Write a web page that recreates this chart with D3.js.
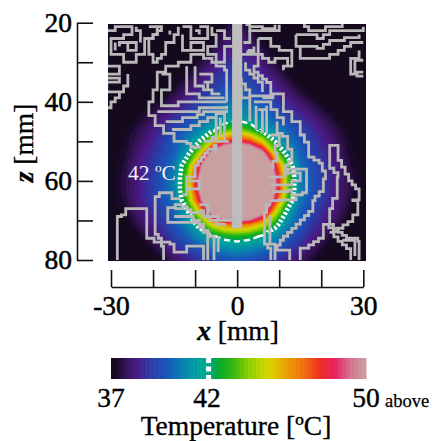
<!DOCTYPE html>
<html><head><meta charset="utf-8">
<script src="https://cdn.jsdelivr.net/npm/d3@7"></script>
<style>html,body{margin:0;background:#fff}svg{display:block}text{font-family:"Liberation Serif",serif;fill:#000}</style>
</head><body><svg id="c" width="434" height="441"></svg>
<script>
const xGrid = [-30,-27,-24,-21,-18,-15,-12,-9,-6,-3,0,3,6,9,12,15,18,21,24,27,30];
const zGrid = [20,23,26,29,32,35,38,41,44,47,50,53,56,59,62,65,68,71,74,77,80];
// temperature in deg C, one row per zGrid entry; values inside the 50+ core are saturated
const temperature = [
[37,37,37,37,37,37,37,37,37,37.2,37.6,37.2,37,37,37,37,37,37,37,37,37],
[37,37,37,37,37,37,37,37,37.1,37.6,38,37.6,37.1,37,37,37,37,37,37,37,37],
[37,37,37,37,37,37,37,37,37.4,38,38.4,38,37.4,37,37,37,37,37,37,37,37],
[37,37,37,37,37,37,37,37.3,37.8,38.4,38.8,38.4,37.8,37.3,37,37,37,37,37,37,37],
[37,37,37,37,37,37,37.2,37.7,38.3,38.9,39.2,38.9,38.3,37.7,37.2,37,37,37,37,37,37],
[37,37,37,37,37,37.1,37.6,38.2,38.8,39.3,39.6,39.3,38.8,38.2,37.6,37.1,37,37,37,37,37],
[37,37,37,37,37.1,37.5,38.1,38.7,39.3,39.8,40.1,39.8,39.3,38.7,38.1,37.5,37.1,37,37,37,37],
[37,37,37,37.2,37.6,38.1,38.7,39.3,39.9,40.4,40.7,40.4,39.9,39.3,38.7,38.1,37.6,37.2,37,37,37],
[37,37,37.2,37.6,38.1,38.7,39.3,39.9,40.5,41,41.3,41,40.5,39.9,39.3,38.7,38.1,37.6,37.2,37,37],
[37,37.1,37.5,38,38.7,39.3,40,40.7,41.6,43,44,43,41.6,40.7,40,39.3,38.7,38,37.5,37.1,37],
[37,37.2,37.7,38.3,39,39.8,40.6,42,45,47.5,48.5,47.5,45,42,40.6,39.8,39,38.3,37.7,37.2,37],
[37,37.3,37.9,38.6,39.2,40,41.4,44.5,50.5,54,56,54,50.5,44.5,41.4,40,39.2,38.6,37.9,37.3,37],
[37.1,37.4,38.1,38.8,39.5,40.4,43,48,56,60,62,60,56,48,43,40.4,39.5,38.8,38.1,37.4,37.1],
[37.1,37.5,38.1,38.9,39.7,40.6,43.6,49.7,58,64,66,64,58,49.7,43.6,40.6,39.7,38.9,38.1,37.5,37.1],
[37.1,37.5,38.1,38.9,39.7,40.6,43.6,49.7,58,64,66,64,58,49.7,43.6,40.6,39.7,38.9,38.1,37.5,37.1],
[37.1,37.4,38.1,38.8,39.5,40.4,43,48,56,60,62,60,56,48,43,40.4,39.5,38.8,38.1,37.4,37.1],
[37,37.2,37.9,38.5,39.2,40,41.5,45,50.5,54,56,54,50.5,45,41.5,40,39.2,38.5,37.9,37.2,37],
[37,37,37.5,38.2,38.9,39.7,40.7,42.5,45,46.5,47,46.5,45,42.5,40.7,39.7,38.9,38.2,37.5,37,37],
[37,37,37.1,37.7,38.4,39.2,40,40.9,41.8,42.5,42.8,42.5,41.8,40.9,40,39.2,38.4,37.7,37.1,37,37],
[37,37,37,37.2,37.8,38.5,39.2,39.8,40.4,40.8,41,40.8,40.4,39.8,39.2,38.5,37.8,37.2,37,37,37],
[37,37,37,37,37.3,37.8,38.4,38.9,39.3,39.6,39.8,39.6,39.3,38.9,38.4,37.8,37.3,37,37,37,37]
];
const tempStops  = [37,37.3,37.8,38.3,39,39.8,40.6,41.4,42,42.4,43.3,44,45,45.8,46.8,47.6,48.4,49.2,50];
const tempColors = ["#120818","#1a0a2a","#3a1560","#4a1a86","#2c3aa4","#1a55b8","#0a80b0","#00a0a0","#00a888","#00a830","#40b810","#88d000","#d8d800","#e8a800","#f07010","#f03020","#e82060","#d87090","#c8a0a0"];
const levelStep = [37,50,0.2];
const needle = {xHalf:1.2, zStart:20, zEnd:72};
const zTicks=[20,30,40,50,60,70,80], zLabels=[20,40,60,80];
const xTicks=[-30,-20,-10,0,10,20,30], xLabels=[-30,0,30];
const barLabels=[37,42,50];
// isotherm-like grey stair-step contours, [x mm, z mm]
const greyLines = [
[[-31,22],[-29,22],[-29,21],[-25,21],[-25,23],[-27,23],[-27,24],[-30,24],[-30,28],[-27,28],[-27,30],[-25,30],[-24,28],[-22,28],[-22,24],[-20,24],[-20,23],[-19,23],[-19,21]],
[[-28,26],[-28,25],[-26,25],[-24,25],[-24,27],[-26,27],[-26,25]],
[[-24,21],[-24,22],[-23,22],[-23,25]],
[[-21,21],[-18,21],[-18,22],[-20,24],[-21,24],[-21,28],[-20,30],[-19,30],[-19,29],[-17,27],[-17,25],[-15,24],[-15,23],[-14,22],[-14,21]],
[[-13,21],[-11,21],[-11,24],[-7,24],[-7,21],[-9,21]],
[[-13,23],[-13,27],[-11,27],[-11,25],[-8,25],[-8,27],[-12,27]],
[[-6,21],[-6,23],[-5,23],[-5,26],[-7,27],[-7,28],[-5,28],[-5,30],[-3,30],[-3,26],[-1,26]],
[[-5,22],[-3,22],[-3,24],[-1.5,24]],
[[-7,29],[-8,28],[-11,28],[-11,30],[-14,31],[-17,31],[-17,32.5],[-19,32.5],[-19,37],[-20,38],[-20,40],[-21,41],[-21,43.5],[-19.5,44],[-19.5,46],[-17.5,46],[-17.5,48],[-15,48],[-15,50],[-12,50.5],[-11,51.5],[-9,51]],
[[-7,29],[-5,31],[-3,32],[-2.5,34],[-2.5,40]],
[[-18,33],[-16,33],[-16,37],[-18,37],[-18,41],[-15,41],[-14,40],[-6,40],[-2.5,40]],
[[-12,31],[-12,38],[-9,39],[-3,39]],
[[-10,31],[-10,36],[-6,38],[-4,38]],
[[-9,33],[-6,33],[-6,35],[-8,35],[-7,37]],
[[-19,42.5],[-15,42.5],[-9,41.5],[-2.5,41]],
[[-17,45],[-14,45],[-13,44],[-11,44],[-8,42.5],[-2.5,42]],
[[-15.5,47],[-11,46],[-9,45],[-7,44],[-5,43],[-3,43],[-3,50]],
[[-5,44],[-5,50]],[[-4,44],[-4,49]],
[[-31,31],[-28,32],[-28,33],[-31,33]],
[[-31,34],[-28,34],[-28,35],[-31,36],[-31,37.5],[-27,37.5],[-27,36],[-26,33],[-26,36],[-28,39],[-29,40],[-30,41],[-30,41.5],[-31,41.5]],
[[2,20.5],[3,22],[10,22],[10,20.5]],
[[3,21],[6,21.5],[9,21.5],[9,20.5]],
[[1.5,25],[3,24],[3,22]],
[[5,24],[7,24],[8,26],[10,27],[13,28],[13,31],[11,32],[11,31],[12,29],[9,30],[6,28],[5,26],[5,24]],
[[2.5,27],[4,26],[4,27.5],[2.5,27.5],[2.5,27]],
[[1,28],[5,28],[5,31],[4,31],[4,32.5],[8,36],[8,38.5],[4,38.5],[3,37],[1,34]],
[[2,30],[2,32],[6,36],[6,37.5]],
[[15,20],[17,22],[20,22],[21,21],[25,21],[25,20]],
[[14,23],[19,24],[22,22],[26,22],[30,21]],
[[14,23],[14,26],[15,26],[15,29],[20,29],[24,27],[27,25],[30,25]],
[[15,26],[19,26.5],[22,24.5],[29,23]],
[[29,27],[29,29],[27,30],[27,33],[28.5,33.5],[30,33.5]],
[[30,29.5],[28,30.5],[28,32.5],[30,32.5]],
[[1,36],[1,39],[3,39],[3,45]],
[[6,39],[8.5,38],[11,39],[11,42.5],[13,43],[13,45],[15,46],[15,48.4],[17,52],[17,54],[19.5,55.5],[21,59.5],[20.5,62.7],[18.5,65],[18,67.7],[14,72],[11,75],[9.5,77.5],[12.5,78],[12.5,80]],
[[4,40],[8,40],[8,42],[9.5,42],[9.5,44],[11,45],[11,46]],
[[5,42],[7,41],[7,48]],[[6,42],[6,48]],[[4.5,41],[4.5,47]],
[[9.5,45],[9.5,48],[12,49.5],[12,52],[13,53],[13,55],[11.5,57],[11.5,59]],
[[8,48.4],[10,49],[10,51],[9,53],[9.5,55],[8.5,57]],
[[8,61],[12,61],[13,60],[15,60],[15,58],[12,58.4]],
[[8.4,62.7],[12,62.3],[13,63.5],[15.5,63],[16.5,57],[13.5,57],[12,58.4]],
[[8,65],[10,64.8],[13,64.8],[14,64]],
[[7.5,59],[11,59]],
[[23,51],[24,52],[24,54.8],[26.5,60],[29,63],[29,64.8],[27.5,65],[28.7,68.6],[27.5,70.3],[24,72.8],[21.8,71],[20.5,74.5],[17,77],[15,78],[15,80]],
[[23,51],[22,54],[22,56.8],[24,59],[23.8,64.4],[22.7,67],[22,70.7]],
[[21.8,71],[24,73],[26,74.5],[28.7,75.3],[29,80]],
[[22,73],[24,75.3],[27,78],[27,80]],
[[25,75],[28,76],[28,79]],
[[8,66],[7,68],[6.5,70],[6.5,76],[8,78],[8,80]],
[[7.5,69],[7.8,76],[9,77],[9,80]],
[[-28.5,80],[-28.5,69],[-27.5,68.6],[-26.5,67],[-22.5,67],[-21.5,74.5],[-18,76.5],[-17.5,78],[-17.5,80]],
[[-13.5,64.5],[-15.5,64.5],[-15.5,63],[-17.5,63],[-19.5,65],[-19.5,73.5],[-18,75.5],[-16,76],[-15,78],[-12,77.5],[-12,76.5],[-8,76.5],[-8,80]],
[[-13,66],[-16.5,67.5],[-16.5,70.5],[-10,70.5],[-8,73],[-5.5,75],[-5.5,80]],
[[-15,69],[-12,69],[-9,71],[-7,74],[-7,80]],
[[-15,67],[-13,66.5],[-11,68],[-9,68.5]],
[[-4.5,74],[-4.5,78]],
[[-13,63.5],[-12,63],[-12,59],[-10,58],[-10,56],[-8.5,54],[-7,52]],
[[-11.5,60],[-9,60],[-9,62],[-11.5,62.5]],
[[-9,66],[-7,67],[-7,69],[-4.5,70],[-1,71]],
[[-9,67.5],[-8,69],[-5,71],[-3,71.5]],
[[-8,50],[-6,49],[-5,50],[-2,50]],
[[-7,52],[-5.5,51],[-5,53]],
[[-29,25],[-29,27]],
[[-16,22],[-16,23]],
[[-10,22],[-9,22],[-9,23]]
];
const svg = d3.select("#c");
const x = d3.scaleLinear().domain([-30,30]).range([111,363.3]);
const z = d3.scaleLinear().domain([20,80]).range([22.7,260]);
const color = d3.scaleLinear().domain(tempStops).range(tempColors).clamp(true);
const levels = d3.range(levelStep[0], levelStep[1]+1e-6, levelStep[2]);
const clipRect = (id,xx,yy,w,h)=>svg.append("clipPath").attr("id",id).append("rect").attr("x",xx).attr("y",yy).attr("width",w).attr("height",h);
clipRect("plot",108,24,258,237);
const dx=xGrid[1]-xGrid[0], dz=zGrid[1]-zGrid[0];
const proj = d3.geoTransform({point(a,b){this.stream.point(x(xGrid[0]+(a-0.5)*dx), z(zGrid[0]+(b-0.5)*dz));}});
const path = d3.geoPath(proj);
const flat = temperature.flat();
const contours = d3.contours().size([xGrid.length,zGrid.length]);
const plot = svg.append("g").attr("clip-path","url(#plot)");
plot.append("rect").attr("x",100).attr("y",20).attr("width",280).attr("height",250).attr("fill",color(37.2));
plot.selectAll("path.b").data(contours.thresholds(levels)(flat)).join("path").attr("class","b")
 .attr("d",path).attr("fill",d=>color(d.value+0.1));
// white dashed 42 deg isotherm: stripes on the flanks, flat dashes on top and bottom
const iso = contours.thresholds([42])(flat)[0];
clipRect("flank1",108,130,258,102);
clipRect("flank2",108,24,258,106);
clipRect("flank3",108,232,258,29);
plot.append("path").datum(iso).attr("d",path).attr("clip-path","url(#flank1)")
 .attr("fill","none").attr("stroke","#fff").attr("stroke-width",4.5).attr("stroke-dasharray","2.4 2");
[2,3].forEach(i=>plot.append("path").datum(iso).attr("d",path).attr("clip-path",`url(#flank${i})`)
 .attr("fill","none").attr("stroke","#fff").attr("stroke-width",2.4).attr("stroke-dasharray","6 4"));
// needle
plot.append("rect").attr("x",x(-needle.xHalf)).attr("y",z(needle.zStart))
 .attr("width",x(needle.xHalf)-x(-needle.xHalf)).attr("height",z(needle.zEnd)-z(needle.zStart)).attr("fill","#bdbdbd");
// each line is drawn on the 1 mm measuring grid, so sloped stretches become stairs
const stair = pts => { const out=[pts[0]];
  for(let i=1;i<pts.length;i++){ const [a,b]=pts[i-1],[c,d]=pts[i];
    const n=Math.max(1,Math.round(Math.min(Math.abs(c-a),Math.abs(d-b))));
    for(let k=1;k<=n;k++){ out.push([a+(c-a)*k/n,b+(d-b)*(k-1)/n]); out.push([a+(c-a)*k/n,b+(d-b)*k/n]); } }
  return out; };
const line = d3.line().x(d=>x(d[0])).y(d=>z(d[1]));
plot.selectAll("path.g").data(greyLines).join("path").attr("class","g").attr("d",d=>line(stair(d)))
 .attr("fill","none").attr("stroke","#b9b9b9").attr("stroke-width",2.8).attr("stroke-linejoin","miter");
svg.append("text").attr("x",128).attr("y",180).attr("font-size",21.5).style("fill","#f4eef4").text("42 ºC");
// axes
const FS=27.5;
const ya = d3.axisLeft(z).tickValues(zTicks).tickSizeInner(-16).tickSizeOuter(0).tickPadding(5)
 .tickFormat(d=>zLabels.includes(d)?d:"");
const yg = svg.append("g").attr("transform","translate(77,0)").call(ya);
const xa = d3.axisBottom(x).tickValues(xTicks).tickSizeInner(-17).tickSizeOuter(0).tickPadding(8)
 .tickFormat(d=>xLabels.includes(d)?d3.format("d")(d).replace("−","-"):"");
const xg = svg.append("g").attr("transform","translate(0,287)").call(xa);
[yg,xg].forEach(g=>{g.selectAll("text").attr("font-size",FS).style("font-family",'"Liberation Serif",serif').style("stroke","#000").style("stroke-width",.5);
 g.selectAll("line,path").attr("stroke","#111").attr("stroke-width",1.6);});
const lab=(sel)=>sel.attr("font-size",FS).style("stroke","#000").style("stroke-width",.35);
const xl=lab(svg.append("text").attr("x",238).attr("y",340).attr("text-anchor","middle"));
xl.append("tspan").attr("font-style","italic").attr("font-weight","bold").text("x");xl.append("tspan").text(" [mm]");
const zl=lab(svg.append("text").attr("transform","translate(33,143) rotate(-90)").attr("text-anchor","middle"));
zl.append("tspan").attr("font-style","italic").attr("font-weight","bold").text("z");zl.append("tspan").text(" [mm]");
// colour bar
const bar = d3.scaleLinear().domain([37,50]).range([111,366]);
const barG = svg.append("g");
barG.selectAll("rect").data(levels.slice(0,-1)).join("rect")
 .attr("x",d=>bar(d)).attr("y",358).attr("width",d=>bar(d+levelStep[2])-bar(d)+.5).attr("height",21)
 .attr("fill",d=>color(d+0.1));
barG.append("line").attr("x1",bar(42)-.5).attr("x2",bar(42)-.5).attr("y1",358).attr("y2",379)
 .attr("stroke","#fff").attr("stroke-width",5).attr("stroke-dasharray","5 3.5");
svg.selectAll("text.bl").data(barLabels).join("text").attr("class","bl")
 .attr("x",d=>bar(d)-(d==42?2:0)).attr("y",407).attr("text-anchor","middle").attr("font-size",FS)
 .style("stroke","#000").style("stroke-width",.4).text(d=>d);
svg.append("text").attr("x",385).attr("y",407).attr("font-size",18.5).style("stroke","#000").style("stroke-width",.25).text("above");
lab(svg.append("text").attr("x",236).attr("y",435).attr("text-anchor","middle")).text("Temperature [ºC]");
</script></body></html>
